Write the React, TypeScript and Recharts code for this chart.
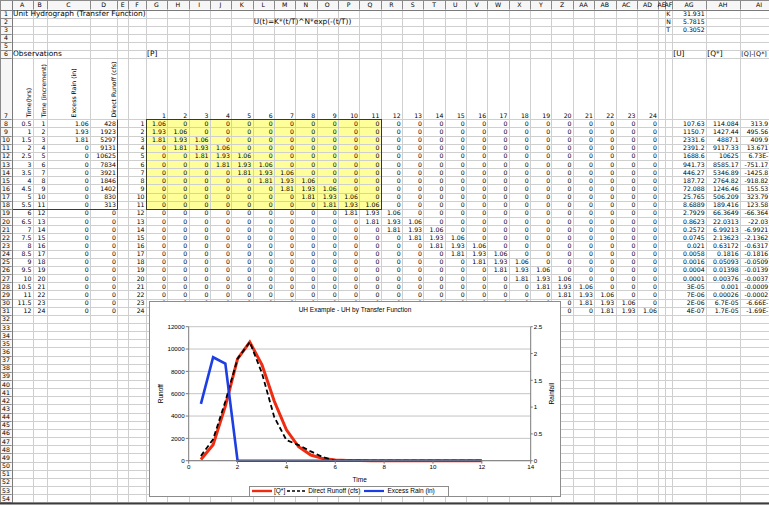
import React from 'react';
import { LineChart, Line, XAxis, YAxis, CartesianGrid } from 'recharts';

// ---------------- DATA ----------------
const timeHrs = [0.5, 1, 1.5, 2, 2.5, 3, 3.5, 4, 4.5, 5, 5.5, 6, 6.5, 7, 7.5, 8, 8.5, 9, 9.5, 10, 10.5, 11, 11.5, 12];
const timeIncrement = [1, 2, 3, 4, 5, 6, 7, 8, 9, 10, 11, 12, 13, 14, 15, 16, 17, 18, 19, 20, 21, 22, 23, 24];
const excessRain = [1.06, 1.93, 1.81, 0, 0, 0, 0, 0, 0, 0, 0, 0, 0, 0, 0, 0, 0, 0, 0, 0, 0, 0, 0, 0];
const directRunoff = [428, 1923, 5297, 9131, 10625, 7834, 3921, 1846, 1402, 830, 313, 0, 0, 0, 0, 0, 0, 0, 0, 0, 0, 0, 0, 0];
const qStar = [114.084, 1427.44, 4887.1, 9117.33, 10625, 8585.17, 5346.89, 2764.82, 1246.46, 506.209, 189.416, 66.3649, 22.0313, 6.99213, 2.13623, 0.63172, 0.1816, 0.05093, 0.01398, 0.00376, 0.001, 0.00026, 6.7e-5, 1.7e-5];
const qStarText = ['114.084', '1427.44', '4887.1', '9117.33', '10625', '8585.17', '5346.89', '2764.82', '1246.46', '506.209', '189.416', '66.3649', '22.0313', '6.99213', '2.13623', '0.63172', '0.1816', '0.05093', '0.01398', '0.00376', '0.001', '0.00026', '6.7E-05', '1.7E-05'];
const unitHydroText = ['107.63', '1150.7', '2331.6', '2391.2', '1688.6', '941.73', '446.27', '187.72', '72.088', '25.765', '8.6889', '2.7929', '0.8623', '0.2572', '0.0745', '0.021', '0.0058', '0.0016', '0.0004', '0.0001', '3E-05', '7E-06', '2E-06', '4E-07'];
const residualText = ['313.9', '495.56', '409.9', '13.671', '6.73E-', '-751.17', '-1425.8', '-918.82', '155.53', '323.79', '123.58', '-66.364', '-22.03', '-6.9921', '-2.1362', '-0.6317', '-0.1816', '-0.0509', '-0.0139', '-0.0037', '-0.0009', '-0.0002', '-6.66E-', '-1.69E-'];
const matrixIndex = [1, 2, 3, 4, 5, 6, 7, 8, 9, 10, 11, 12, 13, 14, 15, 16, 17, 18, 19, 20, 21, 22, 23, 24];
const paramNames = ['K', 'N', 'T'];
const paramValues = ['31.931', '5.7815', '0.3052'];
const columnHeaders = ['Time(hrs)', 'Time (increment)', 'Excess Rain (in)', 'Direct Runoff (cfs)'];
const xTicks = [0, 2, 4, 6, 8, 10, 12, 14];
const runoffTicks = [0, 2000, 4000, 6000, 8000, 10000, 12000];
const rainTicks = [0, 0.5, 1, 1.5, 2, 2.5];

const chartData = timeHrs.map((t, i) => ({ t, q: qStar[i], d: directRunoff[i], r: excessRain[i] }));

// ---------------- SHEET LAYOUT ----------------
type Col = { n: string; x0: number; x1: number };
const COLS: Col[] = (() => {
  const c: Col[] = [
    { n: 'A', x0: 11.7, x1: 32.7 }, { n: 'B', x0: 32.7, x1: 46.7 }, { n: 'C', x0: 46.7, x1: 90 },
    { n: 'D', x0: 90, x1: 117.3 }, { n: 'E', x0: 117.3, x1: 128.3 }, { n: 'F', x0: 128.3, x1: 145.8 },
  ];
  const names = ['G', 'H', 'I', 'J', 'K', 'L', 'M', 'N', 'O', 'P', 'Q', 'R', 'S', 'T', 'U', 'V', 'W', 'X', 'Y', 'Z', 'AA', 'AB', 'AC', 'AD'];
  names.forEach((n, i) => c.push({ n, x0: 145.8 + i * 21.35, x1: 145.8 + (i + 1) * 21.35 }));
  c.push({ n: 'AE', x0: 658.2, x1: 665 }, { n: 'AF', x0: 665, x1: 672 }, { n: 'AG', x0: 672, x1: 706 }, { n: 'AH', x0: 706, x1: 740 }, { n: 'AI', x0: 740, x1: 778 });
  return c;
})();
const colIdx = (n: string) => COLS.findIndex((c) => c.n === n);
const HDR_H = 9.5;
const rowTop = (r: number) => (r <= 7 ? HDR_H + (r - 1) * 8 : 119.2 + (r - 8) * 8.15);
const rowBot = (r: number) => (r === 7 ? 119.2 : r < 7 ? rowTop(r) + 8 : rowTop(r) + 8.15);
const snap = (v: number) => Math.round(v) + 0.5;

type Cell = { c: number; r: number; t: string; a: 'l' | 'r' | 'e'; fs?: number };

function buildCells(): Cell[] {
  const cells: Cell[] = [];
  cells.push({ c: colIdx('A'), r: 1, t: 'Unit Hydrograph (Transfer Function)', a: 'l', fs: 7.4 });
  cells.push({ c: colIdx('L'), r: 2, t: 'U(t)=K*(t/T)^N*exp(-(t/T))', a: 'l', fs: 7.4 });
  paramNames.forEach((p, i) => {
    cells.push({ c: colIdx('AF'), r: i + 1, t: p, a: 'l' });
    cells.push({ c: colIdx('AG'), r: i + 1, t: paramValues[i], a: 'r' });
  });
  cells.push({ c: colIdx('A'), r: 6, t: 'Observations', a: 'l', fs: 7.4 });
  cells.push({ c: colIdx('G'), r: 6, t: '[P]', a: 'l', fs: 7.4 });
  cells.push({ c: colIdx('AG'), r: 6, t: '[U]', a: 'l', fs: 7.4 });
  cells.push({ c: colIdx('AH'), r: 6, t: '[Q*]', a: 'l', fs: 7.4 });
  cells.push({ c: colIdx('AI'), r: 6, t: '[Q]-[Q*]', a: 'l', fs: 6.4 });
  matrixIndex.forEach((m, j) => cells.push({ c: colIdx('G') + j, r: 7, t: String(m), a: 'r' }));
  timeHrs.forEach((t, i) => {
    const r = 8 + i;
    cells.push({ c: colIdx('A'), r, t: String(t), a: 'r' });
    cells.push({ c: colIdx('B'), r, t: String(timeIncrement[i]), a: 'r' });
    cells.push({ c: colIdx('C'), r, t: String(excessRain[i]), a: 'r' });
    cells.push({ c: colIdx('D'), r, t: String(directRunoff[i]), a: 'r' });
    cells.push({ c: colIdx('F'), r, t: String(matrixIndex[i]), a: 'r' });
    matrixIndex.forEach((_, j) => {
      const v = i >= j ? excessRain[i - j] : 0;
      cells.push({ c: colIdx('G') + j, r, t: String(v), a: 'r' });
    });
    cells.push({ c: colIdx('AG'), r, t: unitHydroText[i], a: 'r' });
    cells.push({ c: colIdx('AH'), r, t: qStarText[i], a: 'r' });
    cells.push({ c: colIdx('AI'), r, t: residualText[i], a: 'e' });
  });
  return cells;
}

const rotX = [31.2, 45.5, 76, 115.5];

function Sheet() {
  const cells = buildCells();
  const grid: React.ReactNode[] = [];
  const lastRow = 54;
  const gx0 = COLS[colIdx('G')].x0, gx1 = COLS[colIdx('Q')].x1;
  const gy0 = rowTop(8), gy1 = rowBot(18);
  for (let r = 1; r <= lastRow; r++) {
    const y = snap(rowBot(r));
    grid.push(<line key={'h' + r} x1={11.7} x2={769} y1={y} y2={y} stroke="#cfcfcf" />);
  }
  COLS.forEach((c, i) => {
    const x = snap(c.x1);
    grid.push(<line key={'v' + i} x1={x} x2={x} y1={HDR_H} y2={503} stroke="#cfcfcf" />);
  });
  const hdr: React.ReactNode[] = [];
  hdr.push(<rect key="hb" x={0} y={0} width={769} height={HDR_H} fill="#f6f6f6" />);
  hdr.push(<rect key="rb" x={0} y={0} width={11.7} height={503} fill="#f6f6f6" />);
  COLS.forEach((c, i) => {
    const x = snap(c.x1);
    hdr.push(<line key={'hv' + i} x1={x} x2={x} y1={0} y2={HDR_H} stroke="#8a8a8a" />);
    hdr.push(
      <text key={'ht' + i} x={(c.x0 + c.x1) / 2} y={7.3} textAnchor="middle" fontSize={6.2}>
        {c.n}
      </text>
    );
  });
  for (let r = 1; r <= lastRow; r++) {
    const y = snap(rowBot(r));
    hdr.push(<line key={'rl' + r} x1={0} x2={11.7} y1={y} y2={y} stroke="#8a8a8a" />);
    hdr.push(
      <text key={'rt' + r} x={6} y={rowBot(r) - 1.6} textAnchor="middle" fontSize={6.2}>
        {r}
      </text>
    );
  }
  hdr.push(<line key="hl" x1={0} x2={769} y1={snap(HDR_H)} y2={snap(HDR_H)} stroke="#7a7a7a" />);
  hdr.push(<line key="rl" x1={snap(11.7)} x2={snap(11.7)} y1={0} y2={503} stroke="#7a7a7a" />);
  hdr.push(<line key="top" x1={0} x2={769} y1={0.5} y2={0.5} stroke="#8a8a8a" />);
  hdr.push(<line key="l0" x1={0.5} x2={0.5} y1={0} y2={503} stroke="#8a8a8a" />);

  return (
    <svg width={769} height={505} style={{ position: 'absolute', left: 0, top: 0, fontFamily: '"DejaVu Sans", Verdana, sans-serif' }}>
      <rect x={0} y={0} width={769} height={505} fill="#ffffff" />
      <rect x={gx0} y={gy0} width={gx1 - gx0} height={gy1 - gy0} fill="#ffff99" />
      {grid}
      <rect x={snap(gx0)} y={snap(gy0)} width={Math.round(gx1 - gx0)} height={Math.round(gy1 - gy0)} fill="none" stroke="#3a3a20" strokeWidth={1} />
      <polyline points={`${snap(117.3)},${snap(rowTop(8))} ${snap(117.3)},${snap(rowBot(18))} ${snap(11.7)},${snap(rowBot(18))}`} fill="none" stroke="#3a3a3a" />
      {hdr}
      {columnHeaders.map((h, i) => (
        <text key={'rh' + i} x={rotX[i]} y={117.5} transform={`rotate(-90 ${rotX[i]} 117.5)`} fontSize={6.2}>
          {h}
        </text>
      ))}
      {cells.map((cl, i) => {
        const col = COLS[cl.c];
        const x = cl.a === 'e' ? 768.3 : cl.a === 'r' ? col.x1 - 1.3 : col.x0 + 1.3;
        return (
          <text key={'c' + i} x={x} y={rowBot(cl.r) - 1.6} textAnchor={cl.a === 'l' ? 'start' : 'end'} fontSize={cl.fs ?? 6.2}>
            {cl.t}
          </text>
        );
      })}
      <line x1={0} x2={769} y1={503.5} y2={503.5} stroke="#3c3c3c" strokeWidth={2} />
    </svg>
  );
}

// ---------------- CHART ----------------
const CF = '"Liberation Sans", Arial, sans-serif';

const runoffLabel = (p: any) => {
  const vb = p.viewBox || {};
  const x = (vb.x ?? 0) + 2.3;
  const y = (vb.y ?? 0) + (vb.height ?? 0) / 2;
  return (
    <text x={x} y={y} transform={`rotate(-90 ${x} ${y})`} textAnchor="middle" dominantBaseline="central" fontSize={6.5} fontFamily={CF} fill="#000">
      Runoff
    </text>
  );
};
const rainLabel = (p: any) => {
  const vb = p.viewBox || {};
  const x = (vb.x ?? 0) + 21;
  const y = (vb.y ?? 0) + (vb.height ?? 0) / 2;
  return (
    <text x={x} y={y} transform={`rotate(-90 ${x} ${y})`} textAnchor="middle" dominantBaseline="central" fontSize={6.5} fontFamily={CF} fill="#000">
      Rainfall
    </text>
  );
};
const timeLabel = (p: any) => {
  const vb = p.viewBox || {};
  const x = (vb.x ?? 0) + (vb.width ?? 0) / 2;
  const y = (vb.y ?? 0) + 18.3;
  return (
    <text x={x} y={y} textAnchor="middle" dominantBaseline="central" fontSize={6.5} fontFamily={CF} fill="#000">
      Time
    </text>
  );
};

const tickStyle = { fontSize: 6.2, fontFamily: CF, fill: '#000' };

function LegendSample({ color, dash, w }: { color: string; dash?: string; w: number }) {
  return (
    <svg width={22} height={6} style={{ display: 'block' }}>
      <line x1={1} x2={21} y1={3} y2={3} stroke={color} strokeWidth={w} strokeDasharray={dash} />
    </svg>
  );
}

function Chart() {
  return (
    <div
      style={{
        position: 'absolute', left: 149, top: 301, width: 412, height: 196, boxSizing: 'border-box',
        border: '1px solid #8c8c8c', background: '#fff', fontFamily: CF,
      }}
    >
      <div style={{ position: 'absolute', left: 0, width: 410, top: 3.5, textAlign: 'center', fontSize: 6.5, lineHeight: '8px', color: '#000' }}>
        UH Example - UH by Transfer Function
      </div>
      <LineChart width={410} height={194} data={chartData} margin={{ top: 24.7, right: 9.3, bottom: 15.3, left: 8.7 }}>
        <CartesianGrid yAxisId="left" vertical={false} stroke="#c4c4c4" />
        <XAxis
          dataKey="t" type="number" domain={[0, 14]} ticks={xTicks} height={20} tickSize={3} tickMargin={1}
          stroke="#7a7a7a" tick={tickStyle} interval={0} label={timeLabel}
        />
        <YAxis
          yAxisId="left" domain={[0, 12000]} ticks={runoffTicks} width={30} tickSize={3} tickMargin={1}
          stroke="#7a7a7a" tick={tickStyle} interval={0} label={runoffLabel}
        />
        <YAxis
          yAxisId="right" orientation="right" domain={[0, 2.5]} ticks={rainTicks} width={20} tickSize={2} tickMargin={1}
          stroke="#7a7a7a" tick={tickStyle} interval={0} label={rainLabel}
        />
        <Line yAxisId="left" type="linear" dataKey="q" stroke="#ee2c12" strokeWidth={3} dot={false} isAnimationActive={false} />
        <Line yAxisId="left" type="linear" dataKey="d" stroke="#000" strokeWidth={1.8} strokeDasharray="5 3" dot={false} isAnimationActive={false} />
        <Line yAxisId="right" type="linear" dataKey="r" stroke="#1c3ee2" strokeWidth={2.6} dot={false} isAnimationActive={false} />
      </LineChart>
      <div
        style={{
          position: 'absolute', left: 99, top: 183.5, width: 200, height: 11, boxSizing: 'border-box', border: '1px solid #8c8c8c',
          display: 'flex', alignItems: 'center', fontSize: 6.5, lineHeight: '8px', color: '#000', whiteSpace: 'nowrap',
        }}
      >
        <div style={{ marginLeft: 1 }}><LegendSample color="#ee2c12" w={2.4} /></div>
        <span style={{ marginLeft: 1 }}>[Q*]</span>
        <div style={{ marginLeft: 1 }}><LegendSample color="#000" w={1.5} dash="3 2" /></div>
        <span>Direct Runoff (cfs)</span>
        <div style={{ marginLeft: 3 }}><LegendSample color="#1c3ee2" w={2.2} /></div>
        <span style={{ marginLeft: 2 }}>Excess Rain (in)</span>
      </div>
    </div>
  );
}

export default function App() {
  return (
    <div style={{ position: 'absolute', left: 0, top: 0, width: 769, height: 505, overflow: 'hidden', background: '#fff' }}>
      <Sheet />
      <Chart />
    </div>
  );
}
